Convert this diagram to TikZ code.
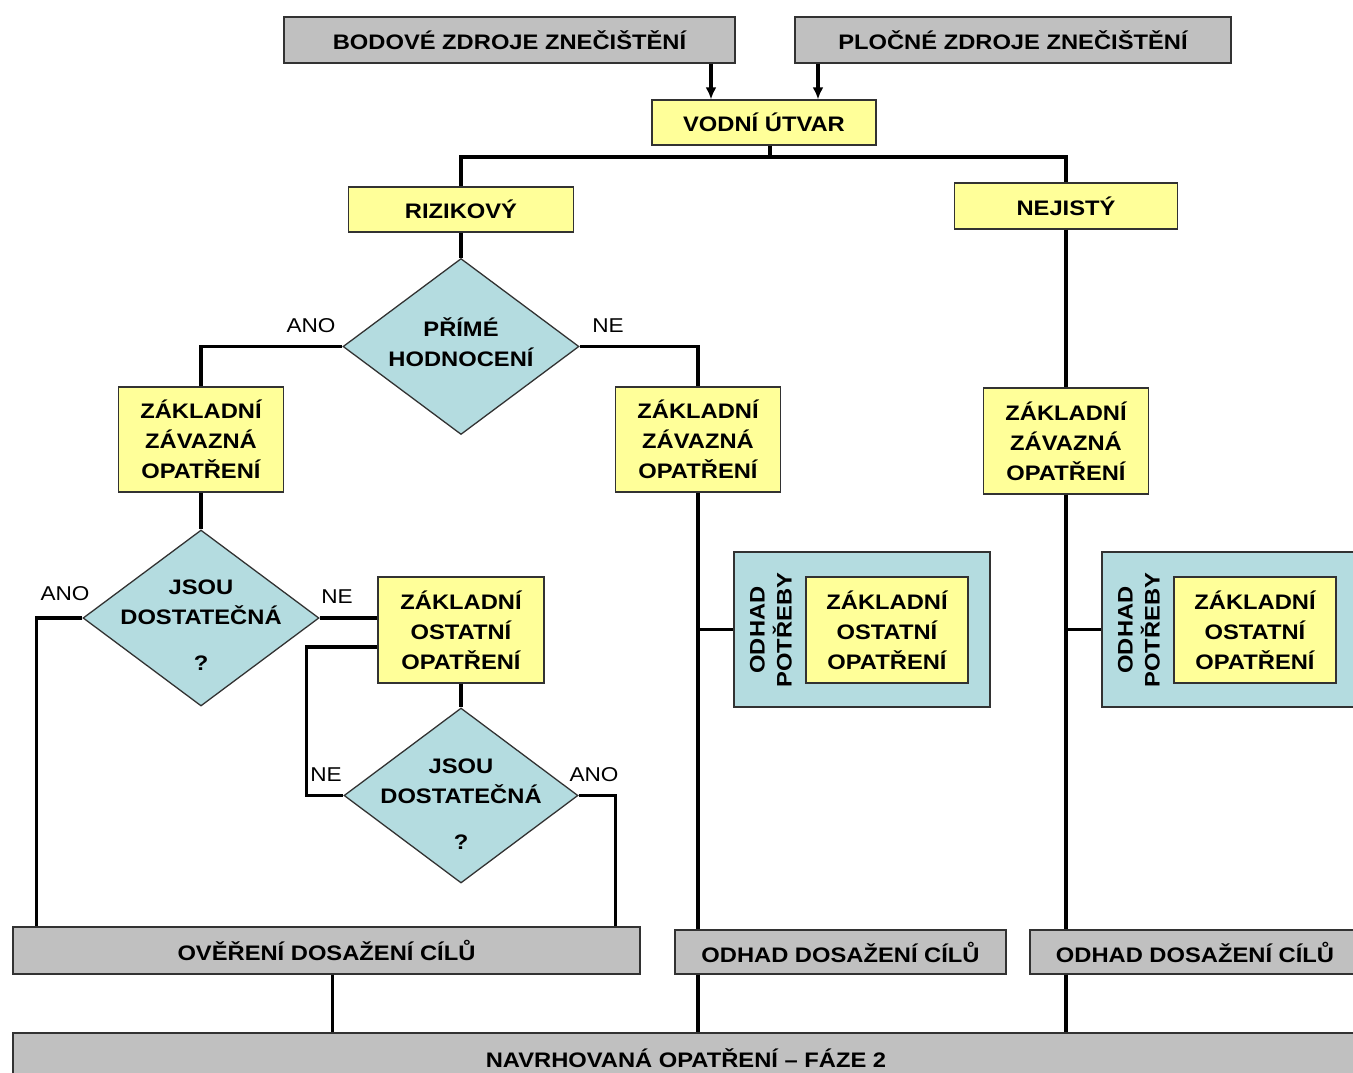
\documentclass[tikz,border=0pt]{standalone}
\usepackage{fontspec}
\setmainfont{Liberation Sans}[FakeStretch=1.13]
\usetikzlibrary{shapes.geometric,arrows.meta}
\definecolor{boxgray}{RGB}{192,192,192}
\definecolor{boxyellow}{RGB}{255,255,153}
\definecolor{boxblue}{RGB}{180,220,224}
\definecolor{edge}{RGB}{50,50,50}
\begin{document}
\begin{tikzpicture}[x=1pt,y=-1pt,
  txt/.style={font=\fontsize{21}{30}\selectfont\bfseries, align=center},
  box/.style={txt, draw=edge, line width=1.3pt, inner sep=0pt},
  gbox/.style={box, fill=boxgray},
  ybox/.style={box, fill=boxyellow},
  bbox/.style={box, fill=boxblue},
  dia/.style={diamond, draw=edge, line width=1.3pt, fill=boxblue, inner sep=0pt},
  lbl/.style={font=\fontsize{20}{24}\selectfont},
  conn/.style={line width=3.4pt, black},
  arr/.style={line width=3.2pt, black, -{Latex[length=12pt,width=11pt]}},
]
\useasboundingbox (0,0) rectangle (1353,1072);
\clip (0,0) rectangle (1353,1072);

% sources and water body
\node[gbox, minimum width=451, minimum height=46] (bodove) at (509.5,40) {BODOVÉ ZDROJE ZNEČIŠTĚNÍ};
\node[gbox, minimum width=436, minimum height=46] (plocne) at (1013,40) {PLOČNÉ ZDROJE ZNEČIŠTĚNÍ};
\node[ybox, minimum width=224, minimum height=45] (vodni) at (764,122.5) {VODNÍ ÚTVAR};
\coordinate (a1) at (711,0);
\coordinate (a2) at (818,0);
\draw[arr] (bodove.south -| a1) -- (vodni.north -| a1);
\draw[arr] (plocne.south -| a2) -- (vodni.north -| a2);

% classification
\node[ybox, minimum width=225, minimum height=45] (riziko) at (461,209.5) {RIZIKOVÝ};
\node[ybox, minimum width=223, minimum height=46] (nejisty) at (1066,206) {NEJISTÝ};
\coordinate (split) at (770,157);
\draw[conn] (vodni.south -| split) -- (split) -| (riziko.north);
\draw[conn] (split) -| (nejisty.north);

% direct assessment decision
\node[dia, minimum width=236, minimum height=176] (d1) at (461,346.5) {};
\node[txt] (d1t) at (461,342) {PŘÍMÉ\\HODNOCENÍ};
\draw[conn] (riziko.south) -- (d1.north);
\node[lbl] (l1) at (311,326) {ANO};
\node[lbl] (l2) at (608,326) {NE};

% basic mandatory measures
\node[ybox, minimum width=165, minimum height=105] (zzo1) at (201,439.5) {ZÁKLADNÍ\\ZÁVAZNÁ\\OPATŘENÍ};
\node[ybox, minimum width=165, minimum height=105] (zzo2) at (698,439.5) {ZÁKLADNÍ\\ZÁVAZNÁ\\OPATŘENÍ};
\node[ybox, minimum width=165, minimum height=106] (zzo3) at (1066,441) {ZÁKLADNÍ\\ZÁVAZNÁ\\OPATŘENÍ};
\draw[conn] (d1.west) -| (zzo1.north);
\draw[conn] (d1.east) -| (zzo2.north);
\draw[conn] (nejisty.south) -- (zzo3.north);

% sufficiency check, left branch
\node[dia, minimum width=236, minimum height=176] (d2) at (201,618) {};
\node[txt] (d2t) at (201,625) {JSOU\\DOSTATEČNÁ\\[16pt]?};
\draw[conn] (zzo1.south) -- (d2.north);
\node[lbl] (l3) at (65,594) {ANO};
\node[lbl] (l4) at (337,597) {NE};

\node[ybox, minimum width=166, minimum height=106] (zoo) at (461,630) {ZÁKLADNÍ\\OSTATNÍ\\OPATŘENÍ};
\draw[conn] (d2.east) -- (d2.east -| zoo.west);

\node[dia, minimum width=234, minimum height=175] (d3) at (461,795.5) {};
\node[txt] (d3t) at (461,804) {JSOU\\DOSTATEČNÁ\\[16pt]?};
\draw[conn] (zoo.south) -- (d3.north);
\draw[conn] ([yshift=-17pt]zoo.west) -- ++(-71,0) |- (d3.west);
\node[lbl] (l5) at (326,775) {NE};
\node[lbl] (l6) at (594,775) {ANO};

% estimate of need boxes
\node[bbox, minimum width=256, minimum height=155] (b1) at (862,629.5) {};
\node[ybox, minimum width=162, minimum height=106] (y1) at (887,630) {ZÁKLADNÍ\\OSTATNÍ\\OPATŘENÍ};
\node[txt, font=\fontsize{21}{27}\selectfont\bfseries, rotate=90] (p1) at (771,630) {ODHAD\\POTŘEBY};

\node[bbox, minimum width=256, minimum height=155] (b2) at (1230,629.5) {};
\node[ybox, minimum width=162, minimum height=106] (y2) at (1255,630) {ZÁKLADNÍ\\OSTATNÍ\\OPATŘENÍ};
\node[txt, font=\fontsize{21}{27}\selectfont\bfseries, rotate=90] (p2) at (1139,630) {ODHAD\\POTŘEBY};

% goal checks
\node[gbox, minimum width=627, minimum height=47] (overeni) at (326.5,950.5) {OVĚŘENÍ DOSAŽENÍ CÍLŮ};
\node[gbox, minimum width=331, minimum height=44] (odhad1) at (840.5,952) {ODHAD DOSAŽENÍ CÍLŮ};
\node[gbox, minimum width=330, minimum height=44] (odhad2) at (1195,952) {ODHAD DOSAŽENÍ CÍLŮ};

\draw[conn] (d2.west) -| ([xshift=24pt]overeni.north west);
\draw[conn] (d3.east) -| ([xshift=-25pt]overeni.north east);
\draw[conn] (zzo2.south) -- (zzo2.south |- odhad1.north);
\draw[conn] (zzo2.south |- b1.west) -- (b1.west);
\draw[conn] (zzo3.south) -- (zzo3.south |- odhad2.north);
\draw[conn] (zzo3.south |- b2.west) -- (b2.west);

% phase 2
\node[gbox, minimum width=1346, minimum height=50] (navrh) at (686,1058) {NAVRHOVANÁ OPATŘENÍ – FÁZE 2};
\draw[conn] ([xshift=6pt]overeni.south) -- ([xshift=6pt]overeni.south |- navrh.north);
\draw[conn] (zzo2.south |- odhad1.south) -- (zzo2.south |- navrh.north);
\draw[conn] (zzo3.south |- odhad2.south) -- (zzo3.south |- navrh.north);
\end{tikzpicture}
\end{document}
